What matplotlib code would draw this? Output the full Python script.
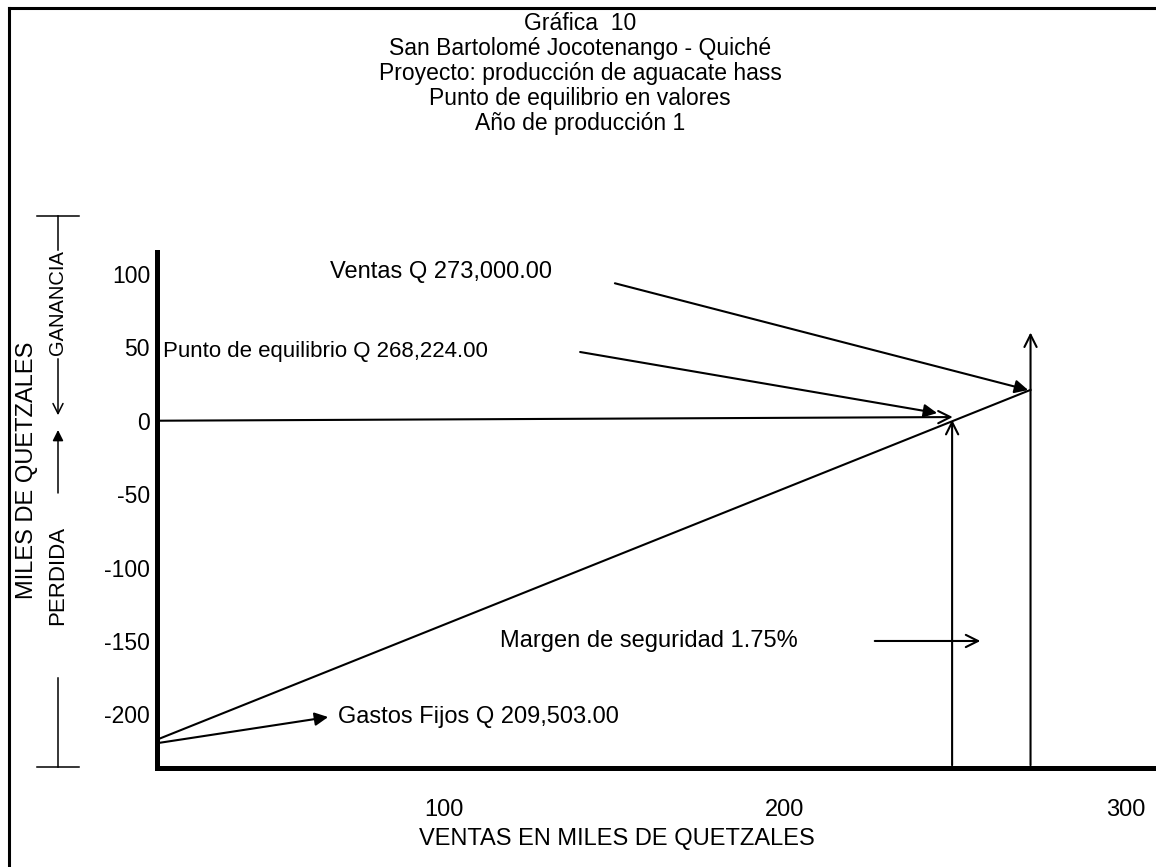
import matplotlib.pyplot as plt
from matplotlib.lines import Line2D

plt.rcParams['font.family'] = ['Liberation Sans', 'DejaVu Sans']
plt.rcParams['axes.unicode_minus'] = False

# values (miles de quetzales)
titulo = ["Gráfica  10",
          "San Bartolomé Jocotenango - Quiché",
          "Proyecto: producción de aguacate hass",
          "Punto de equilibrio en valores",
          "Año de producción 1"]
x_ticks = [100, 200, 300]
y_ticks = [100, 50, 0, -50, -100, -150, -200]
linea_x = [16, 272]          # linea de ventas
linea_y = [-217, 21]
equilibrio_x = 249
ventas_x = 272
ventas_tope = 62
x_lim = (15.8, 308.8)
y_lim = (-236.5, 114.9)

W, H = 1156, 867
def fx(x): return x / W
def fy(y): return 1 - y / H

fig = plt.figure(figsize=(W / 100, H / 100), dpi=100)
ax = fig.add_axes([fx(157), fy(768), 1 - fx(157), (768 - 252) / H])

ax.plot(linea_x, linea_y, color='black', lw=1.5)

# arrows inside chart
ap_open = dict(arrowstyle='->', color='black', lw=1.5, mutation_scale=22)
ap_fill = dict(arrowstyle='-|>', color='black', lw=1.5, mutation_scale=20, shrinkA=0, shrinkB=0)
ax.annotate('', xy=(equilibrio_x + 1, 2.5), xytext=(x_lim[0], 0), arrowprops=ap_open)
ax.annotate('', xy=(equilibrio_x, 2.5), xytext=(equilibrio_x, y_lim[0]), arrowprops=ap_open)
ax.annotate('', xy=(ventas_x, ventas_tope), xytext=(ventas_x, y_lim[0]), arrowprops=ap_open)

ax.text(66.6, 101.1, 'Ventas Q 273,000.00', fontsize=17, va='center', ha='left')
ax.annotate('', xy=(271.3, 20.9), xytext=(150.1, 93.6), arrowprops=ap_fill)
ax.text(17.6, 46.8, 'Punto de equilibrio Q 268,224.00', fontsize=16, va='center', ha='left')
ax.annotate('', xy=(244.6, 5.2), xytext=(139.9, 46.8), arrowprops=ap_fill)
ax.text(116.4, -150, 'Margen de seguridad 1.75%', fontsize=17, va='center', ha='left')
ax.annotate('', xy=(258.1, -150), xytext=(225.5, -150), arrowprops=ap_open)
ax.text(68.9, -201.8, 'Gastos Fijos Q 209,503.00', fontsize=17, va='center', ha='left')
ax.annotate('', xy=(66.0, -201.8), xytext=(16.1, -219.5), arrowprops=ap_fill)

ax.set_xlim(*x_lim)
ax.set_ylim(*y_lim)
ax.set_xticks(x_ticks)
ax.set_yticks(y_ticks)
ax.tick_params(length=0)
ax.tick_params(axis='x', labelsize=17, pad=22)
ax.tick_params(axis='y', labelsize=16.5, pad=5)
for s in ['top', 'right']:
    ax.spines[s].set_visible(False)
for s in ['left', 'bottom']:
    ax.spines[s].set_linewidth(3.6)
    ax.spines[s].set_capstyle('projecting')

# titles
for t, y in zip(titulo, [23, 48.5, 73.5, 98.5, 123.5]):
    fig.text(fx(580), fy(y), t, fontsize=16.5, ha='center', va='center')

fig.text(fx(617), fy(839), 'VENTAS EN MILES DE QUETZALES', fontsize=17, ha='center', va='center')
fig.text(fx(27), fy(470), 'MILES DE QUETZALES', fontsize=17, rotation=90, ha='center', va='center')
fig.text(fx(58), fy(575), 'PERDIDA', fontsize=16, rotation=90, ha='center', va='center')
fig.text(fx(58), fy(303), 'GANANCIA', fontsize=14.5, rotation=90, ha='center', va='center')

# left side marks
def fline(xs, ys, lw=1.1):
    fig.add_artist(Line2D([fx(x) for x in xs], [fy(y) for y in ys], color='black', lw=lw))

fline([37, 79], [216, 216])
fline([58, 58], [216, 250])
fline([58, 58], [678, 767])
fline([37, 79], [767, 767])
ax.annotate('', xy=(fx(58), fy(430)), xytext=(fx(58), fy(493)), xycoords='figure fraction',
            textcoords='figure fraction', arrowprops=dict(ap_fill, lw=1.1, mutation_scale=16))
ax.annotate('', xy=(fx(58), fy(418)), xytext=(fx(58), fy(356)), xycoords='figure fraction',
            textcoords='figure fraction', arrowprops=dict(ap_open, lw=1.1, mutation_scale=18))

# frame
fline([9, 9], [8, 867], lw=2.2)
fline([9, 1156], [8, 8], lw=2.2)

fig.savefig('out.png', dpi=100)
